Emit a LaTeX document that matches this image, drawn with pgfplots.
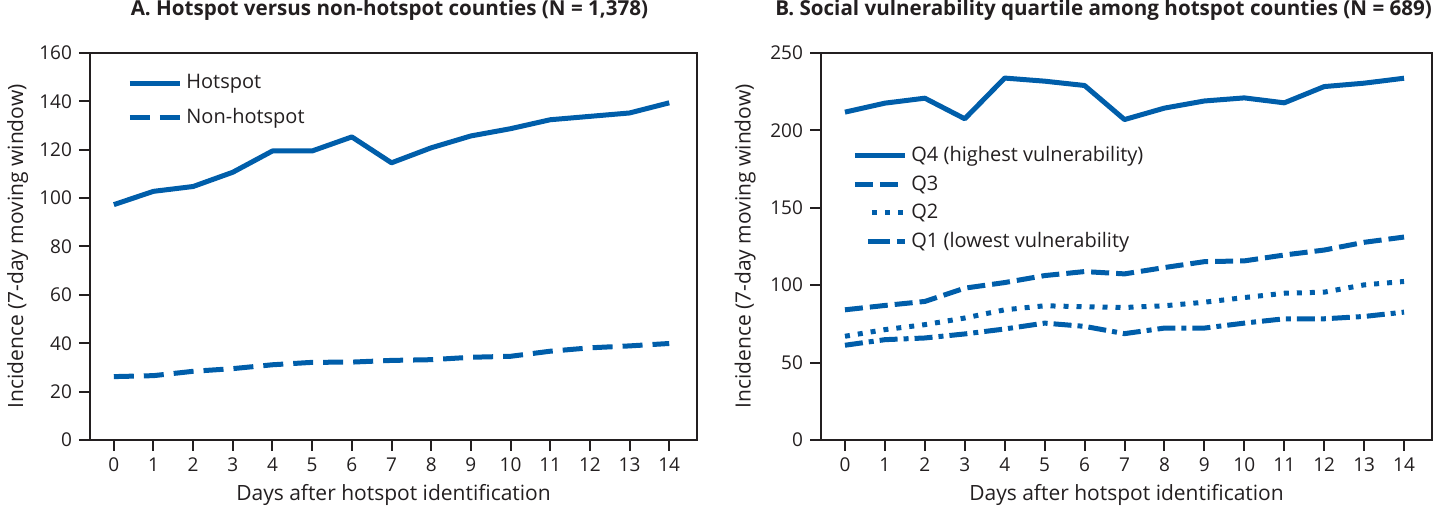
\documentclass[border=0pt]{standalone}
\usepackage{fontspec}
\setmainfont{Open Sans}
\usepackage{pgfplots}
\pgfplotsset{compat=1.18}
\definecolor{cdcblue}{RGB}{0,94,170}
\definecolor{txt}{RGB}{35,31,32}
\newcommand{\kf}{\fontsize{9.5}{11}\selectfont}
\newcommand{\lf}{\fontsize{10.5}{12}\selectfont}
\newcommand{\gf}{\fontsize{10}{12}\selectfont}
\newcommand{\tf}{\bfseries\fontsize{10.3}{12}\selectfont}
\pgfplotsset{
  cdc/.style={
    scale only axis,
    height=193.5pt,
    xmin=-0.6, xmax=14.7,
    xtick={0,1,...,14},
    axis line style={line width=1pt, draw=txt},
    tick style={line width=1pt, draw=txt},
    major tick length=5.5pt,
    tick align=outside,
    xtick pos=bottom, ytick pos=left,
    /pgf/number format/assume math mode=true,
    ticklabel style={font=\kf, text=txt},
    xticklabel style={anchor=base, yshift=-10.5pt},
    label style={font=\lf, text=txt},
    xlabel style={at={(axis description cs:0.5,0)}, anchor=base, yshift=-30.5pt},
    title style={text=txt},
    legend cell align=left,
    legend image code/.code={\draw[##1, line cap=butt] (0pt,0pt) -- (25pt,0pt);},
    legend style={draw=none, fill=none, font=\gf, text=txt,
      at={(axis description cs:0,1)}, anchor=north west, inner sep=0pt},
    every axis plot/.append style={line width=2.5pt, draw=cdcblue, line join=round, mark=none},
  },
  q2leg/.style={legend image code/.code={\draw[##1, line cap=butt] (8.5pt,0pt) -- (25pt,0pt);}},
  q1leg/.style={legend image code/.code={\draw[##1, line cap=butt, dash pattern=on 11pt off 3.5pt on 4pt off 3pt] (6.5pt,0pt) -- (25pt,0pt);}},
}
\begin{document}
\begin{tikzpicture}
\useasboundingbox (0pt,0pt) rectangle (723.5pt,256pt);
\begin{axis}[cdc,
  at={(45pt,36pt)}, anchor=south west,
  width=303.5pt,
  ymin=0, ymax=160, ytick={0,20,...,160},
  title={\tf A. Hotspot versus non-hotspot counties (N = 1,378)},
  title style={at={(axis description cs:0.5,1)}, anchor=base, yshift=12.5pt, xshift=-2pt},
  xlabel={Days after hotspot identification},
  ylabel={Incidence (7-day moving window)},
  ylabel style={at={(axis description cs:-0.119,0.5)}, anchor=center},
  legend style={xshift=18.5pt, yshift=-8.5pt, row sep=4.5pt,
    /tikz/every even column/.append style={column sep=4pt}},
]
\addplot[solid] coordinates {(0,97.3) (1,102.8) (2,104.8) (3,110.7) (4,119.5) (5,119.5) (6,125.3) (7,114.6) (8,120.8) (9,125.7) (10,128.7) (11,132.4) (12,133.8) (13,135.2) (14,139.4)};
\addlegendentry{Hotspot}
\addplot[dash pattern=on 10pt off 5pt] coordinates {(0,26.2) (1,26.6) (2,28.4) (3,29.5) (4,31.1) (5,32.1) (6,32.2) (7,32.9) (8,33.2) (9,34.2) (10,34.6) (11,36.7) (12,38.1) (13,38.9) (14,39.9)};
\addlegendentry{Non-hotspot}
\end{axis}
\begin{axis}[cdc,
  at={(410.5pt,36pt)}, anchor=south west,
  width=305.5pt,
  ymin=0, ymax=250, ytick={0,50,...,250},
  title={\tf B. Social vulnerability quartile among hotspot counties (N = 689)},
  title style={at={(axis description cs:1,1)}, anchor=base east, yshift=12.5pt, xshift=3.5pt},
  xlabel={Days after hotspot identification},
  ylabel={Incidence (7-day moving window)},
  ylabel style={at={(axis description cs:-0.124,0.5)}, anchor=center},
  legend style={xshift=15.5pt, yshift=-44.5pt, row sep=1.5pt,
    /tikz/every even column/.append style={column sep=3pt}},
]
\addplot[solid] coordinates {(0,211.8) (1,217.6) (2,220.8) (3,207.5) (4,233.8) (5,231.8) (6,229) (7,207) (8,214.4) (9,219) (10,221) (11,217.8) (12,228.3) (13,230.5) (14,233.7)};
\addlegendentry{Q4 (highest vulnerability)}
\addplot[dash pattern=on 9pt off 3.5pt] coordinates {(0,84.1) (1,86.9) (2,89.5) (3,98.1) (4,101.7) (5,106.2) (6,108.8) (7,107.3) (8,111.4) (9,115.2) (10,115.7) (11,119.5) (12,122.7) (13,127.7) (14,131.1)};
\addlegendentry{Q3}
\addplot[dash pattern=on 2.5pt off 4pt, q2leg] coordinates {(0,67) (1,71.3) (2,74.5) (3,78.8) (4,84.1) (5,86.7) (6,86.1) (7,85.6) (8,86.7) (9,89) (10,92) (11,94.8) (12,95.5) (13,100.2) (14,102.4)};
\addlegendentry{Q2}
\addplot[dash pattern=on 9pt off 3pt on 2.5pt off 3pt, q1leg] coordinates {(0,61.2) (1,64.8) (2,65.9) (3,68.5) (4,71.7) (5,75.5) (6,73.4) (7,68.7) (8,72.3) (9,72.3) (10,75.5) (11,78.3) (12,78.3) (13,79.8) (14,82.6)};
\addlegendentry{Q1 (lowest vulnerability}
\end{axis}
\end{tikzpicture}
\end{document}
